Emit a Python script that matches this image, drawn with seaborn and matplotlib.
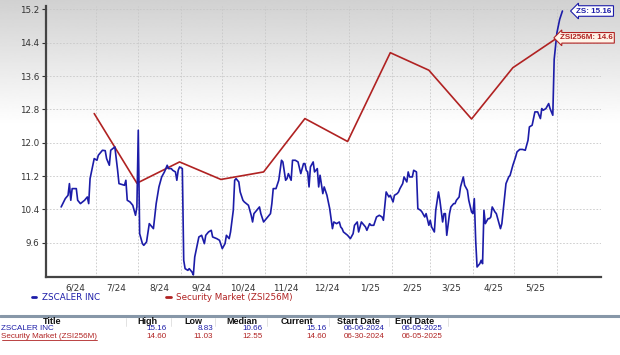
import pandas as pd
import seaborn as sns
import numpy as np
import matplotlib.pyplot as plt
from matplotlib.lines import Line2D

#ZS daily price; days counted from the start date
zs_start="2024-06-06"
zs_days=[0,3,5,6,7,8,11,12,14,17,19,20,21,24,26,27,30,32,33,35,36,39,41,42,46,47,48,50,52,54,55,56,57,59,60,62,64,66,67,69,71,73,75,77,78,80,81,83,84,85,86,88,
	89,90,92,93,95,96,97,99,100,102,104,105,107,109,110,113,115,117,119,120,122,123,125,126,127,129,130,132,133,136,138,139,140,142,144,145,147,150,152,153,154,156,158,160,161,163,164,165,167,168,170,172,174,176,177,178,179,180,181,183,184,186,187,188,190,191,193,195,197,198,
	200,202,203,204,205,208,210,212,213,215,216,218,219,221,222,224,225,227,229,231,233,234,236,238,239,241,242,244,245,246,248,249,251,252,253,255,256,258,259,261,262,264,265,267,268,269,271,272,274,275,277,278,279,280,282,283,285,286,287,289,290,292,293,295,296,298,299,
	300,301,302,304,305,306,307,308,310,311,312,313,315,316,317,319,320,322,323,325,326,328,330,331,333,335,337,339,340,342,344,346,348,349,350,352,354,355,357,358,360,362,364]
zs_price=[10.46,10.66,10.74,11.02,10.62,10.90,10.90,10.62,10.54,10.62,10.70,10.54,11.14,11.62,11.58,11.70,11.82,11.81,11.62,11.46,11.82,11.90,11.34,11.02,10.98,11.10,10.62,10.58,10.50,10.26,10.46,12.30,9.82,9.58,9.54,9.62,10.06,9.98,9.94,10.54,10.94,11.18,11.30,11.46,11.38,11.38,11.34,11.30,11.10,11.34,11.42,11.38,
	9.18,8.98,8.94,8.98,8.90,8.83,9.26,9.58,9.74,9.78,9.58,9.78,9.86,9.90,9.74,9.70,9.66,9.46,9.58,9.78,9.70,9.86,10.38,11.10,11.14,11.06,10.82,10.62,10.58,10.50,10.26,10.10,10.30,10.38,10.46,10.30,10.10,10.22,10.30,10.54,10.90,10.90,11.10,11.58,11.54,11.10,11.14,11.26,11.10,11.58,11.58,11.54,11.26,11.50,11.50,11.34,11.30,10.94,11.42,11.54,11.30,11.38,10.94,11.22,10.78,10.94,10.74,10.42,9.94,10.10,
	10.06,10.10,9.98,9.94,9.86,9.78,9.70,9.82,10.02,10.10,9.86,10.10,10.06,9.98,9.90,10.06,10.02,10.02,10.22,10.26,10.22,10.14,10.82,10.70,10.74,10.58,10.74,10.78,10.82,10.90,11.02,11.18,11.06,11.30,11.18,11.18,11.34,11.30,10.42,10.38,10.34,10.22,10.30,10.02,10.14,9.98,9.86,10.38,10.82,10.62,10.10,10.30,10.30,9.78,10.30,10.46,10.54,10.54,10.62,10.70,10.94,11.18,10.98,10.86,10.62,10.34,10.30,
	10.66,9.66,9.02,9.10,9.18,9.10,10.38,10.06,10.18,10.18,10.22,10.46,10.34,10.30,10.18,9.94,10.06,10.70,11.02,11.18,11.22,11.46,11.66,11.78,11.84,11.84,11.82,12.06,12.38,12.42,12.74,12.74,12.58,12.82,12.78,12.82,12.94,12.82,12.66,14.00,14.64,14.96,15.16]

#industry index, monthly
mkt_dates=["2024-06-30","2024-07-31","2024-08-31","2024-09-30","2024-10-31","2024-11-30","2024-12-31","2025-01-31","2025-02-28","2025-03-31","2025-04-30","2025-06-05"]
mkt_price=[12.70,11.03,11.54,11.12,11.30,12.58,12.03,14.16,13.74,12.57,13.80,14.60]

month_starts=pd.date_range("2024-07-01","2025-06-01",freq="MS")
label_pos=pd.date_range("2024-06-01","2025-05-01",freq="MS")+pd.Timedelta(days=15)
month_labels=[str(d.month)+"/"+d.strftime("%y") for d in label_pos]
y_ticks=[9.6,10.4,11.2,12.0,12.8,13.6,14.4,15.2]

table_header=["Title","High","Low","Median","Current","Start Date","End Date"]
table_rows=[["ZSCALER INC","15.16","8.83","10.66","15.16","06-06-2024","06-05-2025"],
	["Security Market (ZSI256M)","14.60","11.03","12.55","14.60","06-30-2024","06-05-2025"]]

blue="#1c1ca8"
red="#b02222"

sns.set_theme(style="white")
plt.rcParams["font.family"]=["DejaVu Sans"]

zs=pd.DataFrame({"date":pd.to_datetime(zs_start)+pd.to_timedelta(zs_days,unit="D"),"price":zs_price})
mkt=pd.DataFrame({"date":pd.to_datetime(mkt_dates),"price":mkt_price})

fig=plt.figure(figsize=(6.2,3.55),dpi=100)

#grey fade at the top of the picture
bg=fig.add_axes([0,1-125/355,1,125/355],zorder=-5)
grad=np.linspace(0.82,1.0,200).reshape(-1,1)
bg.imshow(grad,cmap="gray",vmin=0,vmax=1,aspect="auto",extent=[0,1,0,1])
bg.axis("off")

ax=fig.add_axes([46/620,1-277/355,555/620,271/355])
ax.set_facecolor("none")

sns.lineplot(data=mkt,x="date",y="price",ax=ax,color=red,linewidth=1.2)
sns.lineplot(data=zs,x="date",y="price",ax=ax,color=blue,linewidth=1.2)

ax.set_xlim(pd.Timestamp("2024-05-26"),pd.Timestamp("2025-07-03"))
ax.set_ylim(8.78,15.28)
ax.set_xlabel("")
ax.set_ylabel("")

ax.set_xticks(month_starts)
ax.set_xticks(label_pos,minor=True)
ax.set_xticklabels([],minor=False)
ax.set_xticklabels(month_labels,minor=True)
ax.tick_params(axis="x",which="major",length=3,direction="in",color="#bbbbbb")
ax.tick_params(axis="x",which="minor",length=0,labelsize=6.4,labelcolor="#333333",pad=5)
ax.set_yticks(y_ticks)
ax.set_yticklabels([f"{v:.1f}" for v in y_ticks])
ax.tick_params(axis="y",length=3,width=0.8,color="#333333",labelsize=6.3,labelcolor="#333333",left=True,pad=2)

ax.grid(True,which="major",color="#c8c8c8",linestyle=(0,(2,2)),linewidth=0.6)
for s in ["top","right"]:
	ax.spines[s].set_visible(False)
for s in ["left","bottom"]:
	ax.spines[s].set_color("#444444")
	ax.spines[s].set_linewidth(1.6)

#end labels
ax.annotate("ZS: 15.16",xy=(zs["date"].iloc[-1],zs["price"].iloc[-1]),xytext=(10,0),textcoords="offset points",
	ha="left",va="center",fontsize=5.8,fontweight="bold",color=blue,family="Liberation Sans",annotation_clip=False,
	bbox=dict(boxstyle="larrow,pad=0.22",fc="white",ec=blue,lw=0.8))
ax.annotate("ZSI256M: 14.6",xy=(mkt["date"].iloc[-1],mkt["price"].iloc[-1]),xytext=(-2,-2.5),textcoords="offset points",
	ha="left",va="center",fontsize=5.8,fontweight="bold",color=red,family="Liberation Sans",annotation_clip=False,
	bbox=dict(boxstyle="larrow,pad=0.22",fc="#fff4e8",ec=red,lw=0.8))

#legend under the axis
handles=[Line2D([],[],color=blue,lw=2),Line2D([],[],color=red,lw=2)]
fig.legend(handles,["ZSCALER INC","Security Market (ZSI256M)"],loc="center left",bbox_to_anchor=(24/620,1-298/355),
	ncol=2,frameon=False,handlelength=0.5,handletextpad=0.6,columnspacing=7.6,fontsize=6.3,labelcolor=[blue,red])

#summary table
fig.add_artist(Line2D([0,1],[1-316/355,1-316/355],color="#8797a8",lw=2.2))
col_right=[None,167,213,263,327,385,443]
col_center=[52,147,193,242,297,358,415]
col_sep=[126,171,215,267,329,389,448]
for x in col_sep:
	fig.add_artist(Line2D([x/620,x/620],[1-318/355,1-326/355],color="#dddddd",lw=0.6))
for i,h in enumerate(table_header):
	fig.text(col_center[i]/620,1-322/355,h,ha="center",va="center",fontsize=6.5,fontweight="bold",color="#111111",family="Liberation Sans")
row_y=[329,336]
row_col=[blue,red]
for r,row in enumerate(table_rows):
	y=1-row_y[r]/355
	fig.text(1/620,y,row[0],ha="left",va="center",fontsize=5.8,color=row_col[r],family="Liberation Sans")
	for i in range(1,len(row)):
		fig.text(col_right[i]/620,y,row[i],ha="right",va="center",fontsize=5.8,color=row_col[r],family="Liberation Sans")
fig.add_artist(Line2D([2/620,97/620],[1-339.5/355,1-339.5/355],color=red,lw=0.6))

plt.savefig("out.png",dpi=100)
